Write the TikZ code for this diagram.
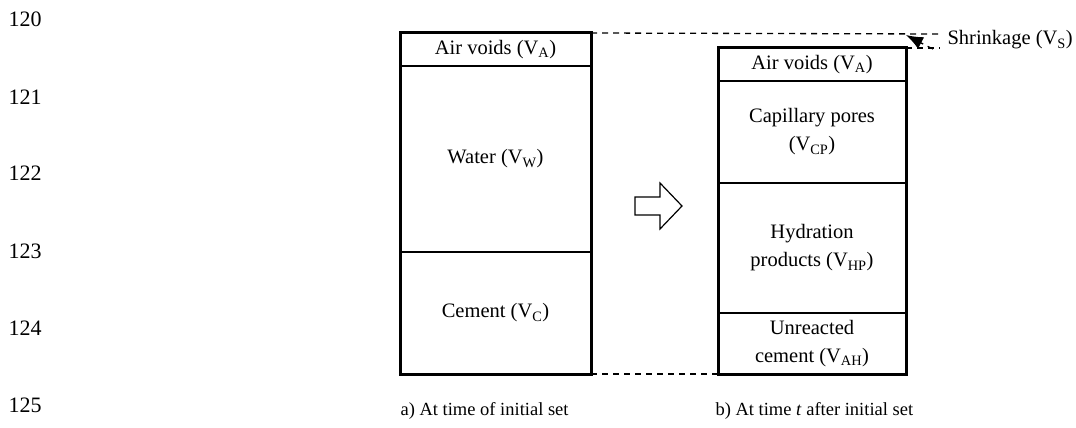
\documentclass[tikz,border=0pt]{standalone}
\usepackage{fontspec}
\setmainfont{Liberation Serif}
\usetikzlibrary{arrows.meta, positioning}
\definecolor{InkBlack}{HTML}{000000}
\newcommand{\vsub}[1]{\textsubscript{#1}}

\tikzset{
  layer/.style={draw=InkBlack, line width=1.4pt, inner sep=0pt, outer sep=0pt,
                align=center, font=\fontsize{20.5}{28}\selectfont},
  colL/.style={layer, minimum width=191pt},
  colR/.style={layer, minimum width=188pt},
  jar/.style={draw=InkBlack, line width=3pt},
  guide/.style={draw=InkBlack, line width=1.3pt, dash pattern=on 6pt off 5pt},
  lineno/.style={anchor=west, font=\fontsize{22}{24}\selectfont},
  caption/.style={anchor=west, font=\fontsize{18.5}{20}\selectfont}
}

\begin{document}
\begin{tikzpicture}[x=1pt, y=-1pt]
  \useasboundingbox (0,0) rectangle (1076,428);

  % line numbers
  \foreach \n/\yy in {120/19, 121/97, 122/173, 123/251, 124/328, 125/405}
    \node[lineno] (ln\n) at (5,\yy) {\n};

  % a) initial set
  \node[colL, minimum height=33pt, anchor=north] (airL) at (495.5,33) {Air voids (V\vsub{A})};
  \node[colL, minimum height=186pt, below=0pt of airL] (waterL) {Water (V\vsub{W})};
  \node[colL, minimum height=122pt, below=0pt of waterL] (cemL) {Cement (V\vsub{C})};
  \draw[jar] (airL.north west) rectangle (cemL.south east);

  % b) time t
  \node[colR, minimum height=33pt, anchor=north] (airR) at (812,48) {Air voids (V\vsub{A})};
  \node[colR, minimum height=102pt, below=0pt of airR] (capR) {Capillary pores\\(V\vsub{CP})};
  \node[colR, minimum height=130pt, below=0pt of capR] (hydR) {Hydration\\products (V\vsub{HP})};
  \node[colR, minimum height=61pt, below=0pt of hydR] (unrR) {Unreacted\\cement (V\vsub{AH})};
  \draw[jar] (airR.north west) rectangle (unrR.south east);

  % hollow arrow between the two states
  \draw[line width=1.2pt, line join=miter]
    (635,197) -- (660,197) -- (660,183) -- (682,206) -- (660,229) -- (660,215) -- (635,215) -- cycle;

  % shrinkage
  \coordinate (topEnd) at (940,34);
  \coordinate (botEnd) at (940,48);
  \coordinate (midS) at (923,44);
  \coordinate (tipS) at (906,35);
  \draw[guide] (airL.north east) -- (topEnd);
  \draw[guide] (airR.north east) -- (botEnd);
  \draw[guide] (933,49) -- (midS);
  \draw[line width=1.3pt, -{Latex[length=17pt, width=13pt]}] (midS) -- (tipS);
  \node[anchor=west, font=\fontsize{20.5}{22}\selectfont] (shrink) at (944,40) {Shrinkage (V\vsub{S})};
  \draw[guide] (cemL.south east) -- (unrR.south west);

  % captions
  \node[caption] (capA) at (397,411) {a) At time of initial set};
  \node[caption] (capB) at (712,411) {b) At time \textit{t} after initial set};
\end{tikzpicture}
\end{document}
